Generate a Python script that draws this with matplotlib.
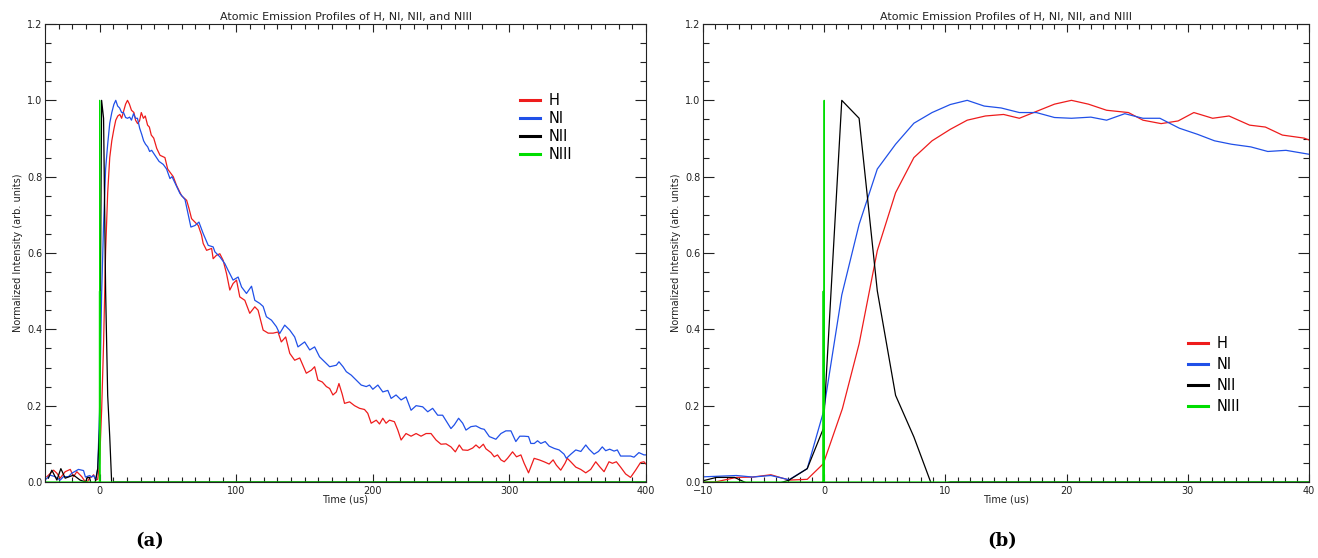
"""
Atomic emission profiles of H, NI, NII and NIII.
(a) full time window, (b) zoom on the first 40 us.
"""
import matplotlib
matplotlib.use("Agg")
import matplotlib.pyplot as plt
from matplotlib.ticker import MultipleLocator, FormatStrFormatter

plt.rcParams["font.family"] = ["DejaVu Sans"]

TITLE = "Atomic Emission Profiles of H, NI, NII, and NIII"
XLABEL = "Time (us)"
YLABEL = "Normalized Intensity (arb. units)"

# --- H (red) ---
h_t = [-38.6, -33.7, -31.3, -28.9, -25.2, -21.5, -19.1, -16.7, -13.1, -10.4,
       -9.0, -7.25, -5.9, -4.4, -2.9, -1.4, -0.07, 1.5, 2.88, 4.38,
       5.89, 7.4, 8.9, 10.4, 11.8, 13.3, 14.8, 16.1, 17.6, 19.0,
       20.4, 21.8, 23.3, 25.1, 26.3, 27.8, 29.2, 30.5, 32.05, 33.4,
       35.1, 36.4, 37.8, 39.6, 41.8, 44.2, 47.8, 49.8, 53.9, 56.3,
       60.0, 63.7, 65.4, 67.3, 70.0, 72.2, 74.6, 75.8, 78.3, 82.0,
       83.1, 85.5, 88.0, 90.4, 92.9, 95.3, 97.7, 100.2, 102.6, 106.3,
       109.9, 113.6, 116.0, 119.7, 123.4, 127.0, 130.6, 133.0, 136.2, 139.2,
       142.8, 146.5, 151.3, 155.0, 157.4, 159.8, 163.0, 166.0, 168.4, 170.8,
       173.3, 175.2, 177.6, 179.3, 183.0, 186.6, 190.3, 193.9, 196.3, 198.8,
       202.5, 204.9, 207.3, 209.7, 212.2, 215.8, 218.3, 220.7, 224.3, 228.0,
       231.7, 235.3, 239.0, 242.6, 246.3, 249.9, 253.6, 257.2, 260.4, 263.3,
       265.8, 269.5, 273.1, 275.5, 278.0, 280.9, 282.8, 286.5, 288.9, 291.3,
       293.8, 296.2, 298.6, 302.3, 305.2, 308.4, 310.8, 314.0, 318.1, 321.8,
       325.4, 329.1, 332.0, 334.4, 337.6, 340.7, 342.4, 344.9, 348.6, 352.2,
       355.9, 359.5, 363.2, 366.1, 369.3, 372.9, 375.4, 378.3, 381.4, 385.1,
       388.7, 392.4, 396.0, 398.5, 401.0]
h_v = [0.014, 0.031, 0.023, 0.010, 0.027, 0.033, 0.014, 0.027, 0.014, 0.000,
       0.000, 0.012, 0.013, 0.019, 0.005, 0.007, 0.048, 0.192, 0.362, 0.606,
       0.758, 0.850, 0.894, 0.924, 0.948, 0.959, 0.963, 0.953, 0.972, 0.990,
       1.000, 0.990, 0.974, 0.968, 0.948, 0.939, 0.946, 0.968, 0.953, 0.959,
       0.935, 0.930, 0.909, 0.901, 0.874, 0.856, 0.850, 0.820, 0.800, 0.777,
       0.750, 0.738, 0.717, 0.690, 0.680, 0.672, 0.647, 0.625, 0.607, 0.612,
       0.585, 0.594, 0.598, 0.581, 0.546, 0.503, 0.520, 0.529, 0.485, 0.476,
       0.442, 0.459, 0.450, 0.398, 0.390, 0.390, 0.393, 0.367, 0.380, 0.337,
       0.319, 0.325, 0.285, 0.293, 0.302, 0.267, 0.262, 0.250, 0.245, 0.228,
       0.236, 0.258, 0.230, 0.206, 0.210, 0.200, 0.193, 0.190, 0.180, 0.154,
       0.162, 0.152, 0.167, 0.154, 0.162, 0.158, 0.136, 0.110, 0.127, 0.120,
       0.127, 0.120, 0.127, 0.127, 0.110, 0.099, 0.100, 0.092, 0.079, 0.097,
       0.084, 0.083, 0.089, 0.097, 0.089, 0.099, 0.087, 0.077, 0.066, 0.071,
       0.058, 0.053, 0.062, 0.079, 0.066, 0.071, 0.049, 0.024, 0.062, 0.058,
       0.053, 0.047, 0.058, 0.044, 0.031, 0.049, 0.062, 0.053, 0.039, 0.033,
       0.024, 0.033, 0.053, 0.040, 0.027, 0.053, 0.049, 0.053, 0.039, 0.021,
       0.012, 0.031, 0.051, 0.053, 0.043]

# --- NI (blue) ---
ni_t = [-40.0, -36.3, -32.6, -28.9, -26.5, -22.8, -20.4, -15.5, -11.8, -10.4,
        -8.9, -7.25, -5.9, -4.4, -2.9, -1.4, -0.07, 1.45, 2.88, 4.38,
        5.89, 7.4, 8.9, 10.4, 11.8, 13.2, 14.6, 16.1, 17.5, 19.0,
        20.4, 22.0, 23.3, 24.8, 26.3, 27.7, 29.3, 30.8, 32.2, 33.6,
        35.2, 36.6, 38.1, 39.6, 40.5, 43.5, 46.6, 49.0, 51.5, 53.0,
        56.0, 58.8, 62.5, 64.9, 66.8, 69.8, 72.7, 75.8, 79.5, 83.1,
        84.4, 88.0, 91.7, 94.0, 97.7, 101.4, 103.9, 107.5, 111.2, 113.6,
        117.2, 119.7, 122.1, 125.8, 129.4, 131.8, 135.5, 139.2, 142.8, 145.2,
        150.1, 153.8, 157.4, 161.0, 164.7, 168.4, 173.3, 175.2, 178.2, 180.6,
        184.2, 187.9, 191.5, 195.2, 197.6, 200.0, 203.7, 207.3, 211.0, 213.4,
        217.0, 220.7, 224.3, 228.0, 231.7, 236.5, 240.2, 243.8, 247.5, 251.1,
        254.8, 257.2, 259.7, 262.8, 265.8, 268.2, 271.8, 275.5, 279.2, 281.6,
        285.3, 290.1, 293.8, 297.4, 301.1, 304.7, 307.6, 310.8, 314.0, 315.7,
        318.2, 320.6, 323.0, 326.2, 329.1, 332.8, 336.4, 340.0, 341.7, 345.0,
        348.6, 352.3, 355.9, 358.3, 362.0, 365.2, 368.0, 370.5, 373.4, 376.6,
        379.0, 381.4, 385.1, 388.7, 391.2, 394.8, 398.5, 401.0]
ni_v = [0.005, 0.018, 0.014, 0.005, 0.014, 0.014, 0.023, 0.033, 0.030, 0.013,
        0.015, 0.017, 0.013, 0.017, 0.006, 0.035, 0.183, 0.490, 0.675, 0.820,
        0.885, 0.940, 0.968, 0.989, 1.000, 0.985, 0.980, 0.968, 0.968, 0.955,
        0.953, 0.956, 0.948, 0.965, 0.953, 0.953, 0.927, 0.911, 0.894, 0.885,
        0.878, 0.866, 0.869, 0.861, 0.856, 0.840, 0.832, 0.820, 0.795, 0.800,
        0.777, 0.756, 0.740, 0.700, 0.668, 0.672, 0.681, 0.651, 0.620, 0.616,
        0.603, 0.590, 0.572, 0.555, 0.529, 0.537, 0.511, 0.494, 0.513, 0.476,
        0.468, 0.460, 0.433, 0.424, 0.407, 0.389, 0.411, 0.398, 0.380, 0.354,
        0.367, 0.346, 0.354, 0.328, 0.315, 0.302, 0.306, 0.315, 0.302, 0.289,
        0.280, 0.267, 0.254, 0.250, 0.254, 0.243, 0.254, 0.236, 0.240, 0.219,
        0.228, 0.215, 0.223, 0.188, 0.200, 0.197, 0.184, 0.193, 0.175, 0.175,
        0.154, 0.140, 0.150, 0.167, 0.154, 0.136, 0.145, 0.147, 0.140, 0.138,
        0.119, 0.112, 0.127, 0.134, 0.134, 0.106, 0.120, 0.120, 0.119, 0.101,
        0.101, 0.108, 0.101, 0.106, 0.094, 0.088, 0.084, 0.073, 0.062, 0.073,
        0.084, 0.080, 0.097, 0.086, 0.073, 0.080, 0.092, 0.082, 0.086, 0.081,
        0.084, 0.068, 0.068, 0.068, 0.065, 0.077, 0.071, 0.071]

# --- NII (black) ---
nii_t = [-37.5, -35.0, -31.3, -28.4, -25.2, -19.1, -14.3, -10.4, -8.9, -7.4,
         -5.9, -4.4, -2.9, -1.4, -0.07, 1.45, 2.88, 4.38, 5.89, 7.4,
         8.9, 10.4, 401.0]
nii_v = [0.010, 0.031, 0.005, 0.035, 0.010, 0.018, 0.005, 0.000, 0.012, 0.012,
         -0.010, -0.010, 0.005, 0.035, 0.140, 1.000, 0.953, 0.501, 0.227, 0.118,
         -0.010, 0.000, 0.000]

# --- NIII (green) ---
niii_t = [-40.0, -0.09, -0.08, -0.07, -0.01, 0.0, 0.01, 401.0]
niii_v = [0.0, 0.0, 0.5, 0.0, 0.0, 1.0, 0.0, 0.0]

SERIES = [
    ("H", h_t, h_v, "#ee1c1c"),
    ("NI", ni_t, ni_v, "#2050e8"),
    ("NII", nii_t, nii_v, "#000000"),
    ("NIII", niii_t, niii_v, "#00dd00"),
]

W, H = 1318, 558
fig = plt.figure(figsize=(W / 100, H / 100), dpi=100)


def panel(rect, xlim, xmajor, xminor, legend_anchor, legend_spacing):
    ax = fig.add_axes(rect)
    for name, t, v, c in SERIES:
        ax.plot(t, v, color=c, lw=0.9, label=name)
    ax.set_xlim(*xlim)
    ax.set_ylim(0, 1.2)
    ax.xaxis.set_major_locator(MultipleLocator(xmajor))
    ax.xaxis.set_minor_locator(MultipleLocator(xminor))
    ax.yaxis.set_major_locator(MultipleLocator(0.2))
    ax.yaxis.set_minor_locator(MultipleLocator(0.05))
    ax.yaxis.set_major_formatter(FormatStrFormatter("%.1f"))
    ax.tick_params(axis="both", which="both", direction="in",
                   top=True, right=True, labelsize=7, width=0.8,
                   colors="#222222", labelcolor="#222222")
    ax.tick_params(axis="x", which="major", length=6, pad=3)
    ax.tick_params(axis="x", which="minor", length=3.5)
    ax.tick_params(axis="y", which="major", length=8, pad=2)
    ax.tick_params(axis="y", which="minor", length=4.5)
    for s in ax.spines.values():
        s.set_linewidth(0.8)
        s.set_color("#222222")
    ax.set_title(TITLE, fontsize=8, pad=3, color="#222222")
    ax.set_xlabel(XLABEL, fontsize=7, labelpad=-1, color="#222222")
    ax.set_ylabel(YLABEL, fontsize=7, labelpad=3, color="#222222")
    ax.legend(loc="upper left", bbox_to_anchor=legend_anchor, frameon=False,
              fontsize=10.5, handlelength=1.4, handletextpad=0.6,
              labelspacing=legend_spacing, borderpad=0, borderaxespad=0)
    for line in ax.get_legend().get_lines():
        line.set_linewidth(2.2)
    return ax


ax_a = panel([45 / W, 76 / H, 601 / W, 458 / H], (-40, 400), 100, 10,
             (0.79, 0.85), 0.22)
ax_b = panel([703 / W, 76 / H, 606 / W, 458 / H], (-10, 40), 10, 1,
             (0.80, 0.318), 0.4)

fig.text(150 / W, 1 - 541 / H, "(a)", ha="center", va="center",
         fontsize=13, fontweight="bold", family="DejaVu Serif")
fig.text(1002 / W, 1 - 541 / H, "(b)", ha="center", va="center",
         fontsize=13, fontweight="bold", family="DejaVu Serif")

fig.savefig("out.png", dpi=100)
